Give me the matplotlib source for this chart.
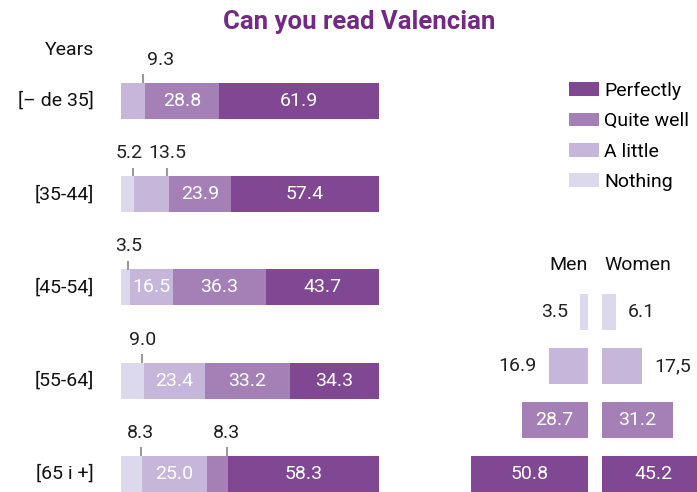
import matplotlib.pyplot as plt
import numpy as np

plt.rcParams['font.family'] = ['Roboto', 'DejaVu Sans']

# data
ages = ['[– de 35]', '[35-44]', '[45-54]', '[55-64]', '[65 i +]']
levels = ['Nothing', 'A little', 'Quite well', 'Perfectly']
nothing = [0, 5.2, 3.5, 9.0, 8.3]
a_little = [9.3, 13.5, 16.5, 23.4, 25.0]
quite_well = [28.8, 23.9, 36.3, 33.2, 8.3]
perfectly = [61.9, 57.4, 43.7, 34.3, 58.3]
men = [3.5, 16.9, 28.7, 50.8]
women = [6.1, 17.5, 31.2, 45.2]
women_labels = ['6.1', '17,5', '31.2', '45.2']

colors = ['#dcd9ed', '#c6b7da', '#a580b6', '#804893']
purple = '#732a84'
W, H = 697, 492
fs = 14

fig = plt.figure(figsize=(W / 100, H / 100), dpi=100)

# ---- left: stacked bars by age
ax = fig.add_axes([121 / W, 0, 258 / W, 1])
ax.set_xlim(0, 100)
ax.set_ylim(4 + 18 / 93.25, -101 / 93.25)
ax.axis('off')

series = [nothing, a_little, quite_well, perfectly]
y = np.arange(len(ages))
left = np.zeros(len(ages))
bars = []
nudge = {(0, 1): 6.6, (1, 0): -1.5}
for j, vals in enumerate(series):
    vals = np.array(vals)
    b = ax.barh(y, vals, left=left, height=36 / 93.25, color=colors[j], label=levels[j])
    bars.append(b)
    for i, v in enumerate(vals):
        if v <= 0:
            continue
        if v >= 15:
            ax.text(left[i] + v / 2, y[i], f'{v:.1f}', ha='center', va='center',
                    color='white', fontsize=fs)
        else:
            xe = left[i] + v - 0.7
            ax.plot([xe, xe], [y[i] - 0.193, y[i] - 0.285], color='#9a9a9a', lw=1.5,
                    solid_capstyle='butt')
            ax.text(xe + nudge.get((i, j), 0), y[i] - 0.44, f'{v:.1f}', ha='center',
                    va='center', color='#222222', fontsize=fs)
    left = left + vals

for i, lab in enumerate(ages):
    ax.text(-27 / 2.58, y[i], lab, ha='right', va='center', fontsize=fs, color='#111111')
ax.text(-27 / 2.58, -0.547, 'Years', ha='right', va='center', fontsize=fs, color='#111111')

# ---- right: men / women
ax2 = fig.add_axes([460 / W, 0, 237 / W, 1])
ax2.set_xlim((460 - 594.7) / 2.3, (697 - 594.7) / 2.3)
ax2.set_ylim(3 + 18 / 54, -312 / 54)
ax2.axis('off')

g = 3.04
yr = np.arange(len(levels))
ax2.barh(yr, men, left=[-m - g for m in men], height=36 / 54, color=colors)
ax2.barh(yr, women, left=g, height=36 / 54, color=colors)
for i in range(len(levels)):
    if men[i] >= 25:
        ax2.text(-g - men[i] / 2, yr[i], f'{men[i]:.1f}', ha='center', va='center',
                 color='white', fontsize=fs)
    else:
        ax2.text(-g - men[i] - 5.2, yr[i], f'{men[i]:.1f}', ha='right', va='center',
                 color='#222222', fontsize=fs)
    if women[i] >= 25:
        ax2.text(g + women[i] / 2, yr[i], women_labels[i], ha='center', va='center',
                 color='white', fontsize=fs)
    else:
        ax2.text(g + women[i] + 5.2, yr[i], women_labels[i], ha='left', va='center',
                 color='#222222', fontsize=fs)
ax2.text(-g, -0.87, 'Men', ha='right', va='center', fontsize=fs, color='#111111')
ax2.text(g + 1, -0.87, 'Women', ha='left', va='center', fontsize=fs, color='#111111')

# legend, darkest first
fig.legend(bars[::-1], levels[::-1], loc='upper left',
           bbox_to_anchor=(569 / W, 1 - 82 / H), frameon=False, fontsize=fs,
           handlelength=30 / 19.4, handleheight=14 / 19.4, handletextpad=0.25,
           labelspacing=0.63, borderpad=0, borderaxespad=0)

fig.text(359.5 / W, 1 - 22 / H, 'Can you read Valencian', ha='center', va='center',
         fontsize=18.5, fontweight='bold', color=purple)

fig.savefig('out.png', dpi=100)
